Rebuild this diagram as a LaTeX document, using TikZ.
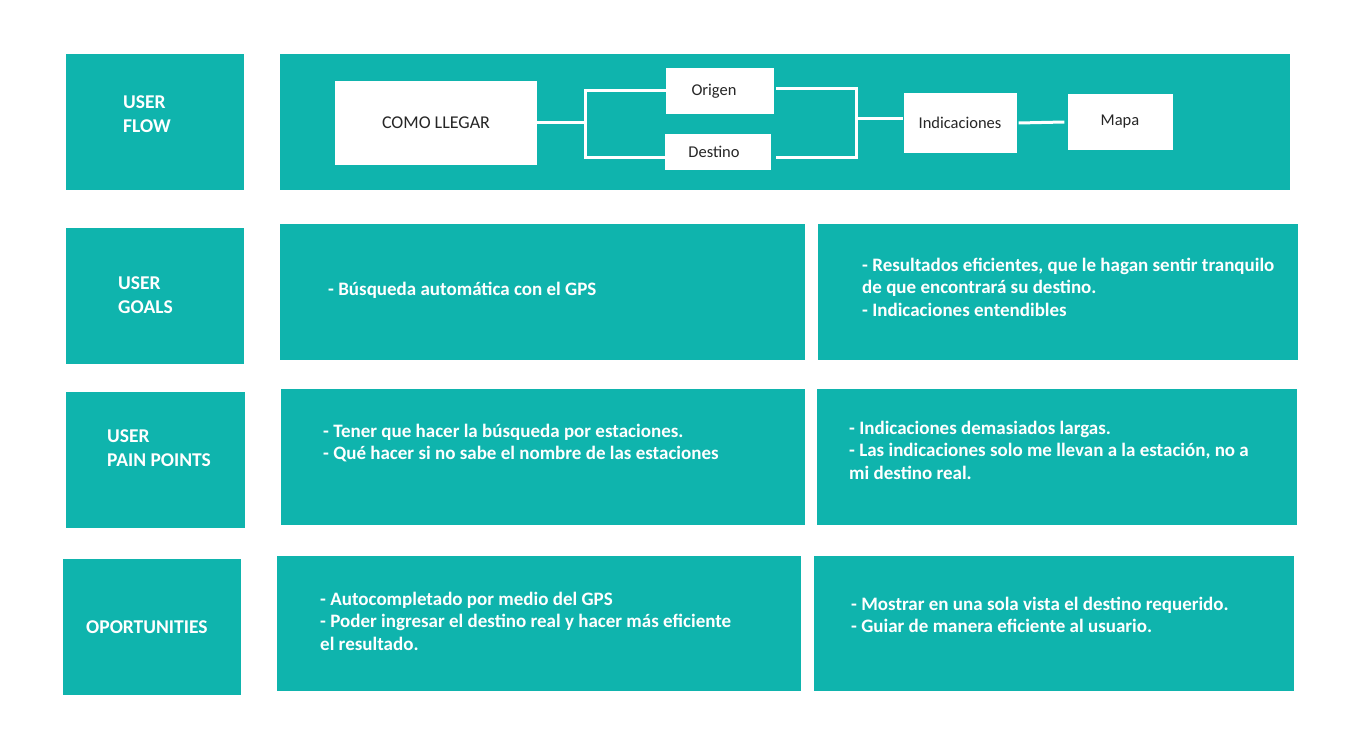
\documentclass[tikz,border=0pt]{standalone}
\usepackage{fontspec}
\setmainfont{Carlito}
\definecolor{teal1}{RGB}{15,180,173}
\tikzset{
  panel/.style={fill=teal1, draw=none},
  lbl/.style={anchor=west, align=left, text=white, font=\bfseries\fontsize{19.5}{24}\selectfont, inner sep=0pt},
  body/.style={anchor=west, align=left, text=white, font=\bfseries\fontsize{19}{22.5}\selectfont, inner sep=0pt},
  fbox/.style={fill=white, draw=none, inner sep=0pt, font=\fontsize{16.5}{20}\selectfont, text=black!85},
  conn/.style={draw=white, line width=3pt}
}
\begin{document}
\begin{tikzpicture}[x=1pt,y=-1pt]
\useasboundingbox (0,0) rectangle (1354,749);
\fill[white] (0,0) rectangle (1354,749);
% panels
\fill[panel] (66,54) rectangle (244,190);
\fill[panel] (280,54) rectangle (1290,190);
\fill[panel] (66,228) rectangle (244,364);
\fill[panel] (280,224) rectangle (805,360);
\fill[panel] (818,224) rectangle (1298,360);
\fill[panel] (66,392) rectangle (245,528);
\fill[panel] (281,389) rectangle (805,525);
\fill[panel] (817,389) rectangle (1297,525);
\fill[panel] (63,559) rectangle (241,695);
\fill[panel] (277,556) rectangle (801,691);
\fill[panel] (814,556) rectangle (1294,691);
% labels
\node[lbl] (l1) at (123,114) {USER\\FLOW};
\node[lbl] (l2) at (118,295) {USER\\GOALS};
\node[lbl] (l3) at (107,448) {USER\\PAIN POINTS};
\node[lbl] (l4) at (86,627) {OPORTUNITIES};
% body texts
\node[body] (g1) at (328,290) {- Búsqueda automática con el GPS};
\node[body] (g2) at (862,287) {- Resultados eficientes, que le hagan sentir tranquilo\\de que encontrará su destino.\\- Indicaciones entendibles};
\node[body] (p1) at (323,443) {- Tener que hacer la búsqueda por estaciones.\\- Qué hacer si no sabe el nombre de las estaciones};
\node[body] (p2) at (849,450) {- Indicaciones demasiados largas.\\- Las indicaciones solo me llevan a la estación, no a\\mi destino real.};
\node[body] (o1) at (320,621) {- Autocompletado por medio del GPS\\- Poder ingresar el destino real y hacer más eficiente\\el resultado.};
\node[body] (o2) at (851,615) {- Mostrar en una sola vista el destino requerido.\\- Guiar de manera eficiente al usuario.};
% flow
\node[fbox, minimum width=202pt, minimum height=84pt, font=\fontsize{18}{20}\selectfont] (como) at (436,123) {COMO LLEGAR};
\node[fbox, minimum width=108pt, minimum height=46pt] (origen) at (720,91) {\hspace*{-12pt}Origen};
\node[fbox, minimum width=106pt, minimum height=36pt] (destino) at (718,152) {\hspace*{-8pt}Destino};
\node[fbox, minimum width=113pt, minimum height=60pt] (ind) at (960,123) {Indicaciones};
\node[fbox, minimum width=105pt, minimum height=56pt] (mapa) at (1120,122) {Mapa};
\coordinate (jl) at (585,123);
\coordinate (jr) at (856,119);
\draw[conn] (como.east) -- (jl);
\draw[conn, line cap=rect] (origen.west) -| (jl) |- ([yshift=-5pt]destino.west);
\draw[conn, line cap=rect] ([xshift=3pt,yshift=2pt]origen.east) -| (jr) |- ([xshift=6pt,yshift=-5pt]destino.east);
\draw[conn] (jr) -- (jr -| ind.west);
\draw[conn] ([xshift=2pt]ind.east) -- ([xshift=-3pt]mapa.west);
\end{tikzpicture}
\end{document}
